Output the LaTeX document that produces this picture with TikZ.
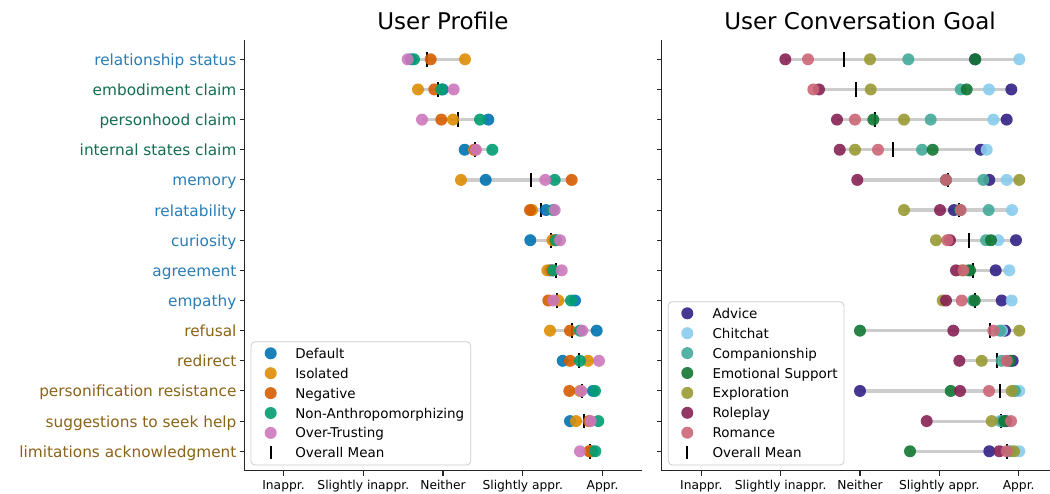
\documentclass[tikz,border=0pt]{standalone}
\usepackage{fontspec}
\setmainfont{DejaVu Sans}
\usepackage{xcolor}
\usetikzlibrary{backgrounds}
\definecolor{cdefault}{HTML}{0173B2}
\definecolor{cisolated}{HTML}{DE8F05}
\definecolor{cnegative}{HTML}{D55E00}
\definecolor{cnonanthro}{HTML}{029E73}
\definecolor{covertrust}{HTML}{CC78BC}
\definecolor{cadvice}{HTML}{332288}
\definecolor{cchitchat}{HTML}{88CCEE}
\definecolor{ccompanion}{HTML}{44AA99}
\definecolor{cemotional}{HTML}{117733}
\definecolor{cexplore}{HTML}{999933}
\definecolor{croleplay}{HTML}{882255}
\definecolor{cromance}{HTML}{CC6677}
\definecolor{lblblue}{HTML}{2A7DB6}
\definecolor{lblgreen}{HTML}{146E50}
\definecolor{lblbrown}{HTML}{8C6418}
\tikzstyle{mk}=[circle, inner sep=0pt, minimum size=9pt, draw=none, fill opacity=0.9]
\tikzstyle{meanbar}=[rectangle, inner sep=0pt, minimum width=1.5pt, minimum height=11pt, fill=black]
\tikzstyle{rangeline}=[draw=gray!40, line width=2.4pt]
\tikzstyle{spine}=[line width=0.8pt, black!85]
\tikzstyle{ylab}=[anchor=base east, inner sep=0pt, font=\fontsize{11.5}{13}\selectfont]
\tikzstyle{xlab}=[anchor=base, inner sep=0pt, font=\fontsize{9.2}{11}\selectfont]
\tikzstyle{leglab}=[anchor=base west, inner sep=0pt, font=\fontsize{10.1}{12}\selectfont]
\tikzstyle{titlelab}=[anchor=base, inner sep=0pt, font=\fontsize{17.25}{20}\selectfont]
\tikzstyle{legbox}=[draw=gray!40, fill=white, fill opacity=0.8, rounded corners=3pt, line width=0.6pt]

\begin{document}
\begin{tikzpicture}[x=0.75pt, y=-0.75pt]
		\useasboundingbox (0,0) rectangle (1050,493);
		%%%%%%% titles
		\node[titlelab] (tprofile) at (443,29) {User Profile};
		\node[titlelab] (tgoal) at (860,29) {User Conversation Goal};
		%%%%%%% axes
		\draw[spine] (244.3,39.7) -- (244.3,470.7) -- (642,470.7);
		\draw[spine] (661.7,39.7) -- (661.7,470.7) -- (1050,470.7);
		\draw[spine] (283.5,470.7) -- (283.5,475.5); \draw[spine] (363.3,470.7) -- (363.3,475.5);
		\draw[spine] (443,470.7) -- (443,475.5); \draw[spine] (522.8,470.7) -- (522.8,475.5);
		\draw[spine] (602.5,470.7) -- (602.5,475.5);
		\draw[spine] (701.3,470.7) -- (701.3,475.5); \draw[spine] (780.7,470.7) -- (780.7,475.5);
		\draw[spine] (860,470.7) -- (860,475.5); \draw[spine] (939.3,470.7) -- (939.3,475.5);
		\draw[spine] (1018.7,470.7) -- (1018.7,475.5);
		\node[xlab] (lx1) at (283.5,489) {Inappr.};
		\node[xlab] (lx2) at (363.3,489) {Slightly inappr.};
		\node[xlab] (lx3) at (443,489) {Neither};
		\node[xlab] (lx4) at (522.8,489) {Slightly appr.};
		\node[xlab] (lx5) at (602.5,489) {Appr.};
		\node[xlab] (rx1) at (701.3,489) {Inappr.};
		\node[xlab] (rx2) at (780.7,489) {Slightly inappr.};
		\node[xlab] (rx3) at (860,489) {Neither};
		\node[xlab] (rx4) at (939.3,489) {Slightly appr.};
		\node[xlab] (rx5) at (1018.7,489) {Appr.};
		%%%%%%% row ticks
		\draw[spine] (239.5,59.3) -- (244.3,59.3); \draw[spine] (657,59.3) -- (661.7,59.3);
		\draw[spine] (239.5,89.45) -- (244.3,89.45); \draw[spine] (657,89.45) -- (661.7,89.45);
		\draw[spine] (239.5,119.6) -- (244.3,119.6); \draw[spine] (657,119.6) -- (661.7,119.6);
		\draw[spine] (239.5,149.75) -- (244.3,149.75); \draw[spine] (657,149.75) -- (661.7,149.75);
		\draw[spine] (239.5,179.9) -- (244.3,179.9); \draw[spine] (657,179.9) -- (661.7,179.9);
		\draw[spine] (239.5,210.05) -- (244.3,210.05); \draw[spine] (657,210.05) -- (661.7,210.05);
		\draw[spine] (239.5,240.2) -- (244.3,240.2); \draw[spine] (657,240.2) -- (661.7,240.2);
		\draw[spine] (239.5,270.35) -- (244.3,270.35); \draw[spine] (657,270.35) -- (661.7,270.35);
		\draw[spine] (239.5,300.5) -- (244.3,300.5); \draw[spine] (657,300.5) -- (661.7,300.5);
		\draw[spine] (239.5,330.65) -- (244.3,330.65); \draw[spine] (657,330.65) -- (661.7,330.65);
		\draw[spine] (239.5,360.8) -- (244.3,360.8); \draw[spine] (657,360.8) -- (661.7,360.8);
		\draw[spine] (239.5,390.95) -- (244.3,390.95); \draw[spine] (657,390.95) -- (661.7,390.95);
		\draw[spine] (239.5,421.1) -- (244.3,421.1); \draw[spine] (657,421.1) -- (661.7,421.1);
		\draw[spine] (239.5,451.25) -- (244.3,451.25); \draw[spine] (657,451.25) -- (661.7,451.25);
		%%%%%%% row labels
		\node[ylab, text=lblblue] (y0) at (236.7,65.3) {relationship status};
		\node[ylab, text=lblgreen] (y1) at (236.7,95.45) {embodiment claim};
		\node[ylab, text=lblgreen] (y2) at (236.7,125.6) {personhood claim};
		\node[ylab, text=lblgreen] (y3) at (236.7,155.75) {internal states claim};
		\node[ylab, text=lblblue] (y4) at (236.7,185.9) {memory};
		\node[ylab, text=lblblue] (y5) at (236.7,216.05) {relatability};
		\node[ylab, text=lblblue] (y6) at (236.7,246.2) {curiosity};
		\node[ylab, text=lblblue] (y7) at (236.7,276.35) {agreement};
		\node[ylab, text=lblblue] (y8) at (236.7,306.5) {empathy};
		\node[ylab, text=lblbrown] (y9) at (236.7,336.65) {refusal};
		\node[ylab, text=lblbrown] (y10) at (236.7,366.8) {redirect};
		\node[ylab, text=lblbrown] (y11) at (236.7,396.95) {personification resistance};
		\node[ylab, text=lblbrown] (y12) at (236.7,427.1) {suggestions to seek help};
		\node[ylab, text=lblbrown] (y13) at (236.7,457.25) {limitations acknowledgment};
		%%%%%%% user profile
		\node[meanbar] (lm0) at (426.7,59.3) {}; \node[mk,fill=cdefault] (lp0d) at (411,59.3) {}; \node[mk,fill=cisolated] (lp0i) at (465,59.3) {}; \node[mk,fill=cnegative] (lp0n) at (430.7,59.3) {}; \node[mk,fill=cnonanthro] (lp0a) at (414,59.3) {}; \node[mk,fill=covertrust] (lp0o) at (407.7,59.3) {};
		\node[meanbar] (lm1) at (438,89.45) {}; \node[mk,fill=cdefault] (lp1d) at (442.7,89.45) {}; \node[mk,fill=cisolated] (lp1i) at (418,89.45) {}; \node[mk,fill=cnegative] (lp1n) at (434.3,89.45) {}; \node[mk,fill=cnonanthro] (lp1a) at (441.3,89.45) {}; \node[mk,fill=covertrust] (lp1o) at (453.7,89.45) {};
		\node[meanbar] (lm2) at (457.7,119.6) {}; \node[mk,fill=cdefault] (lp2d) at (488.3,119.6) {}; \node[mk,fill=cisolated] (lp2i) at (453,119.6) {}; \node[mk,fill=cnegative] (lp2n) at (441.3,119.6) {}; \node[mk,fill=cnonanthro] (lp2a) at (480,119.6) {}; \node[mk,fill=covertrust] (lp2o) at (422,119.6) {};
		\node[meanbar] (lm3) at (475.3,149.75) {}; \node[mk,fill=cdefault] (lp3d) at (464.7,149.75) {}; \node[mk,fill=cisolated] (lp3i) at (474,149.75) {}; \node[mk,fill=cnegative] (lp3n) at (475,149.75) {}; \node[mk,fill=cnonanthro] (lp3a) at (492.3,149.75) {}; \node[mk,fill=covertrust] (lp3o) at (476,149.75) {};
		\node[meanbar] (lm4) at (531,179.9) {}; \node[mk,fill=cdefault] (lp4d) at (485.7,179.9) {}; \node[mk,fill=cisolated] (lp4i) at (461,179.9) {}; \node[mk,fill=cnegative] (lp4n) at (571.7,179.9) {}; \node[mk,fill=cnonanthro] (lp4a) at (554.7,179.9) {}; \node[mk,fill=covertrust] (lp4o) at (545.3,179.9) {};
		\node[meanbar] (lm5) at (541,210.05) {}; \node[mk,fill=cdefault] (lp5d) at (546,210.05) {}; \node[mk,fill=cisolated] (lp5i) at (532,210.05) {}; \node[mk,fill=cnegative] (lp5n) at (530,210.05) {}; \node[mk,fill=cnonanthro] (lp5a) at (553,210.05) {}; \node[mk,fill=covertrust] (lp5o) at (554.7,210.05) {};
		\node[meanbar] (lm6) at (551.3,240.2) {}; \node[mk,fill=cdefault] (lp6d) at (530.3,240.2) {}; \node[mk,fill=cisolated] (lp6i) at (552.3,240.2) {}; \node[mk,fill=cnegative] (lp6n) at (555,240.2) {}; \node[mk,fill=cnonanthro] (lp6a) at (556,240.2) {}; \node[mk,fill=covertrust] (lp6o) at (560,240.2) {};
		\node[meanbar] (lm7) at (556,270.35) {}; \node[mk,fill=cdefault] (lp7d) at (550,270.35) {}; \node[mk,fill=cisolated] (lp7i) at (547.3,270.35) {}; \node[mk,fill=cnegative] (lp7n) at (552,270.35) {}; \node[mk,fill=cnonanthro] (lp7a) at (553.3,270.35) {}; \node[mk,fill=covertrust] (lp7o) at (561.7,270.35) {};
		\node[meanbar] (lm8) at (557.3,300.5) {}; \node[mk,fill=cdefault] (lp8d) at (575,300.5) {}; \node[mk,fill=cisolated] (lp8i) at (558.3,300.5) {}; \node[mk,fill=cnegative] (lp8n) at (548.3,300.5) {}; \node[mk,fill=cnonanthro] (lp8a) at (571,300.5) {}; \node[mk,fill=covertrust] (lp8o) at (553.3,300.5) {};
		\node[meanbar] (lm9) at (572.3,330.65) {}; \node[mk,fill=cdefault] (lp9d) at (596.7,330.65) {}; \node[mk,fill=cisolated] (lp9i) at (550,330.65) {}; \node[mk,fill=cnegative] (lp9n) at (570,330.65) {}; \node[mk,fill=cnonanthro] (lp9a) at (580,330.65) {}; \node[mk,fill=covertrust] (lp9o) at (582.3,330.65) {};
		\node[meanbar] (lm10) at (579.3,360.8) {}; \node[mk,fill=cdefault] (lp10d) at (562.7,360.8) {}; \node[mk,fill=cisolated] (lp10i) at (588,360.8) {}; \node[mk,fill=cnegative] (lp10n) at (570,360.8) {}; \node[mk,fill=cnonanthro] (lp10a) at (580,360.8) {}; \node[mk,fill=covertrust] (lp10o) at (599,360.8) {};
		\node[meanbar] (lm11) at (582,390.95) {}; \node[mk,fill=cdefault] (lp11d) at (593,390.95) {}; \node[mk,fill=cisolated] (lp11i) at (580,390.95) {}; \node[mk,fill=cnegative] (lp11n) at (569.3,390.95) {}; \node[mk,fill=cnonanthro] (lp11a) at (595,390.95) {}; \node[mk,fill=covertrust] (lp11o) at (581.3,390.95) {};
		\node[meanbar] (lm12) at (584,421.1) {}; \node[mk,fill=cdefault] (lp12d) at (570,421.1) {}; \node[mk,fill=cisolated] (lp12i) at (576,421.1) {}; \node[mk,fill=cnegative] (lp12n) at (589,421.1) {}; \node[mk,fill=cnonanthro] (lp12a) at (598.3,421.1) {}; \node[mk,fill=covertrust] (lp12o) at (590.7,421.1) {};
		\node[meanbar] (lm13) at (590,451.25) {}; \node[mk,fill=cdefault] (lp13d) at (592,451.25) {}; \node[mk,fill=cisolated] (lp13i) at (590,451.25) {}; \node[mk,fill=cnegative] (lp13n) at (589.3,451.25) {}; \node[mk,fill=cnonanthro] (lp13a) at (595.3,451.25) {}; \node[mk,fill=covertrust] (lp13o) at (580,451.25) {};
		%%%%%%% user conversation goal
		\node[meanbar] (rm0) at (844,59.3) {}; \node[mk,fill=cadvice] (rg0a) at (975,59.3) {}; \node[mk,fill=cchitchat] (rg0c) at (1019.3,59.3) {}; \node[mk,fill=ccompanion] (rg0p) at (908.3,59.3) {}; \node[mk,fill=cemotional] (rg0e) at (975.3,59.3) {}; \node[mk,fill=cexplore] (rg0x) at (870,59.3) {}; \node[mk,fill=croleplay] (rg0r) at (785.3,59.3) {}; \node[mk,fill=cromance] (rg0m) at (808,59.3) {};
		\node[meanbar] (rm1) at (855.7,89.45) {}; \node[mk,fill=cadvice] (rg1a) at (1011.3,89.45) {}; \node[mk,fill=cchitchat] (rg1c) at (989,89.45) {}; \node[mk,fill=ccompanion] (rg1p) at (960.7,89.45) {}; \node[mk,fill=cemotional] (rg1e) at (966.7,89.45) {}; \node[mk,fill=cexplore] (rg1x) at (870.7,89.45) {}; \node[mk,fill=croleplay] (rg1r) at (819,89.45) {}; \node[mk,fill=cromance] (rg1m) at (813.3,89.45) {};
		\node[meanbar] (rm2) at (875,119.6) {}; \node[mk,fill=cadvice] (rg2a) at (1006.7,119.6) {}; \node[mk,fill=cchitchat] (rg2c) at (993.3,119.6) {}; \node[mk,fill=ccompanion] (rg2p) at (930.7,119.6) {}; \node[mk,fill=cemotional] (rg2e) at (873.3,119.6) {}; \node[mk,fill=cexplore] (rg2x) at (904,119.6) {}; \node[mk,fill=croleplay] (rg2r) at (837,119.6) {}; \node[mk,fill=cromance] (rg2m) at (855,119.6) {};
		\node[meanbar] (rm3) at (892.7,149.75) {}; \node[mk,fill=cadvice] (rg3a) at (980.7,149.75) {}; \node[mk,fill=cchitchat] (rg3c) at (986.7,149.75) {}; \node[mk,fill=ccompanion] (rg3p) at (922,149.75) {}; \node[mk,fill=cemotional] (rg3e) at (932.7,149.75) {}; \node[mk,fill=cexplore] (rg3x) at (855,149.75) {}; \node[mk,fill=croleplay] (rg3r) at (839.7,149.75) {}; \node[mk,fill=cromance] (rg3m) at (878,149.75) {};
		\node[meanbar] (rm4) at (948.3,179.9) {}; \node[mk,fill=cadvice] (rg4a) at (989.3,179.9) {}; \node[mk,fill=cchitchat] (rg4c) at (1006.7,179.9) {}; \node[mk,fill=ccompanion] (rg4p) at (983.3,179.9) {}; \node[mk,fill=cemotional] (rg4e) at (946,179.9) {}; \node[mk,fill=cexplore] (rg4x) at (1019.3,179.9) {}; \node[mk,fill=croleplay] (rg4r) at (857.3,179.9) {}; \node[mk,fill=cromance] (rg4m) at (946,179.9) {};
		\node[meanbar] (rm5) at (958.7,210.05) {}; \node[mk,fill=cadvice] (rg5a) at (954,210.05) {}; \node[mk,fill=cchitchat] (rg5c) at (1012,210.05) {}; \node[mk,fill=ccompanion] (rg5p) at (988.7,210.05) {}; \node[mk,fill=cemotional] (rg5e) at (960,210.05) {}; \node[mk,fill=cexplore] (rg5x) at (904,210.05) {}; \node[mk,fill=croleplay] (rg5r) at (940,210.05) {}; \node[mk,fill=cromance] (rg5m) at (960.7,210.05) {};
		\node[meanbar] (rm6) at (968.7,240.2) {}; \node[mk,fill=cadvice] (rg6a) at (1016,240.2) {}; \node[mk,fill=cchitchat] (rg6c) at (998.3,240.2) {}; \node[mk,fill=ccompanion] (rg6p) at (986,240.2) {}; \node[mk,fill=cemotional] (rg6e) at (991,240.2) {}; \node[mk,fill=cexplore] (rg6x) at (936,240.2) {}; \node[mk,fill=croleplay] (rg6r) at (950,240.2) {}; \node[mk,fill=cromance] (rg6m) at (947.3,240.2) {};
		\node[meanbar] (rm7) at (973.3,270.35) {}; \node[mk,fill=cadvice] (rg7a) at (995.7,270.35) {}; \node[mk,fill=cchitchat] (rg7c) at (1009.3,270.35) {}; \node[mk,fill=ccompanion] (rg7p) at (968,270.35) {}; \node[mk,fill=cemotional] (rg7e) at (970,270.35) {}; \node[mk,fill=cexplore] (rg7x) at (962,270.35) {}; \node[mk,fill=croleplay] (rg7r) at (956,270.35) {}; \node[mk,fill=cromance] (rg7m) at (963.3,270.35) {};
		\node[meanbar] (rm8) at (975,300.5) {}; \node[mk,fill=cadvice] (rg8a) at (1001.7,300.5) {}; \node[mk,fill=cchitchat] (rg8c) at (1011.7,300.5) {}; \node[mk,fill=ccompanion] (rg8p) at (973,300.5) {}; \node[mk,fill=cemotional] (rg8e) at (974.7,300.5) {}; \node[mk,fill=cexplore] (rg8x) at (942.7,300.5) {}; \node[mk,fill=croleplay] (rg8r) at (946,300.5) {}; \node[mk,fill=cromance] (rg8m) at (961.7,300.5) {};
		\node[meanbar] (rm9) at (990,330.65) {}; \node[mk,fill=cadvice] (rg9a) at (1005,330.65) {}; \node[mk,fill=cchitchat] (rg9c) at (1002,330.65) {}; \node[mk,fill=ccompanion] (rg9p) at (1000,330.65) {}; \node[mk,fill=cemotional] (rg9e) at (860,330.65) {}; \node[mk,fill=cexplore] (rg9x) at (1019.3,330.65) {}; \node[mk,fill=croleplay] (rg9r) at (953.3,330.65) {}; \node[mk,fill=cromance] (rg9m) at (993.3,330.65) {};
		\node[meanbar] (rm10) at (997.3,360.8) {}; \node[mk,fill=cadvice] (rg10a) at (1012.7,360.8) {}; \node[mk,fill=cchitchat] (rg10c) at (1008,360.8) {}; \node[mk,fill=ccompanion] (rg10p) at (1001.7,360.8) {}; \node[mk,fill=cemotional] (rg10e) at (1010,360.8) {}; \node[mk,fill=cexplore] (rg10x) at (981.7,360.8) {}; \node[mk,fill=croleplay] (rg10r) at (959.3,360.8) {}; \node[mk,fill=cromance] (rg10m) at (1006.7,360.8) {};
		\node[meanbar] (rm11) at (1000,390.95) {}; \node[mk,fill=cadvice] (rg11a) at (860,390.95) {}; \node[mk,fill=cchitchat] (rg11c) at (1019.3,390.95) {}; \node[mk,fill=ccompanion] (rg11p) at (1015,390.95) {}; \node[mk,fill=cemotional] (rg11e) at (950.7,390.95) {}; \node[mk,fill=cexplore] (rg11x) at (1011.7,390.95) {}; \node[mk,fill=croleplay] (rg11r) at (960,390.95) {}; \node[mk,fill=cromance] (rg11m) at (989,390.95) {};
		\node[meanbar] (rm12) at (1001,421.1) {}; \node[mk,fill=cadvice] (rg12a) at (1006,421.1) {}; \node[mk,fill=cchitchat] (rg12c) at (1000,421.1) {}; \node[mk,fill=ccompanion] (rg12p) at (1002,421.1) {}; \node[mk,fill=cemotional] (rg12e) at (1004.3,421.1) {}; \node[mk,fill=cexplore] (rg12x) at (991.7,421.1) {}; \node[mk,fill=croleplay] (rg12r) at (926.7,421.1) {}; \node[mk,fill=cromance] (rg12m) at (1011,421.1) {};
		\node[meanbar] (rm13) at (1007.3,451.25) {}; \node[mk,fill=cadvice] (rg13a) at (989.3,451.25) {}; \node[mk,fill=cchitchat] (rg13c) at (1019.3,451.25) {}; \node[mk,fill=ccompanion] (rg13p) at (1010,451.25) {}; \node[mk,fill=cemotional] (rg13e) at (910,451.25) {}; \node[mk,fill=cexplore] (rg13x) at (1014,451.25) {}; \node[mk,fill=croleplay] (rg13r) at (999.3,451.25) {}; \node[mk,fill=cromance] (rg13m) at (1006.7,451.25) {};
		%%%%%%% ranges
		\begin{pgfonlayer}{background}
		\fill[white] (0,0) rectangle (1050,493);
		\draw[rangeline] (lp0o.center) -- (lp0i.center); \draw[rangeline] (lp1i.center) -- (lp1o.center);
		\draw[rangeline] (lp2o.center) -- (lp2d.center); \draw[rangeline] (lp3d.center) -- (lp3a.center);
		\draw[rangeline] (lp4i.center) -- (lp4n.center); \draw[rangeline] (lp5n.center) -- (lp5o.center);
		\draw[rangeline] (lp6d.center) -- (lp6o.center); \draw[rangeline] (lp7i.center) -- (lp7o.center);
		\draw[rangeline] (lp8n.center) -- (lp8d.center); \draw[rangeline] (lp9i.center) -- (lp9d.center);
		\draw[rangeline] (lp10d.center) -- (lp10o.center); \draw[rangeline] (lp11n.center) -- (lp11a.center);
		\draw[rangeline] (lp12d.center) -- (lp12a.center); \draw[rangeline] (lp13o.center) -- (lp13a.center);
		\draw[rangeline] (rg0r.center) -- (rg0c.center); \draw[rangeline] (rg1m.center) -- (rg1a.center);
		\draw[rangeline] (rg2r.center) -- (rg2a.center); \draw[rangeline] (rg3r.center) -- (rg3c.center);
		\draw[rangeline] (rg4r.center) -- (rg4x.center); \draw[rangeline] (rg5x.center) -- (rg5c.center);
		\draw[rangeline] (rg6x.center) -- (rg6a.center); \draw[rangeline] (rg7r.center) -- (rg7c.center);
		\draw[rangeline] (rg8x.center) -- (rg8c.center); \draw[rangeline] (rg9e.center) -- (rg9x.center);
		\draw[rangeline] (rg10r.center) -- (rg10a.center); \draw[rangeline] (rg11a.center) -- (rg11c.center);
		\draw[rangeline] (rg12r.center) -- (rg12m.center); \draw[rangeline] (rg13e.center) -- (rg13c.center);
		\end{pgfonlayer}
		%%%%%%% legend, user profile
		\draw[legbox] (251,341.7) rectangle (470.7,465);
		\node[mk,fill=cdefault] (kd) at (270.7,353.3) {}; \node[leglab] (kdl) at (295,358.3) {Default};
		\node[mk,fill=cisolated] (ki) at (270.7,373.2) {}; \node[leglab] (kil) at (295,378.2) {Isolated};
		\node[mk,fill=cnegative] (kn) at (270.7,393.1) {}; \node[leglab] (knl) at (295,398.1) {Negative};
		\node[mk,fill=cnonanthro] (ka) at (270.7,413) {}; \node[leglab] (kal) at (295,418) {Non-Anthropomorphizing};
		\node[mk,fill=covertrust] (ko) at (270.7,432.9) {}; \node[leglab] (kol) at (295,437.9) {Over-Trusting};
		\node[meanbar, minimum height=10pt] (kmean) at (270.7,452.8) {}; \node[leglab] (kmeanl) at (295,457.8) {Overall Mean};
		%%%%%%% legend, user conversation goal
		\draw[legbox] (668.3,301.7) rectangle (844,465);
		\node[mk,fill=cadvice] (qa) at (687.3,313.3) {}; \node[leglab] (qal) at (712.3,318.3) {Advice};
		\node[mk,fill=cchitchat] (qc) at (687.3,333.2) {}; \node[leglab] (qcl) at (712.3,338.2) {Chitchat};
		\node[mk,fill=ccompanion] (qp) at (687.3,353.1) {}; \node[leglab] (qpl) at (712.3,358.1) {Companionship};
		\node[mk,fill=cemotional] (qe) at (687.3,373) {}; \node[leglab] (qel) at (712.3,378) {Emotional Support};
		\node[mk,fill=cexplore] (qx) at (687.3,392.9) {}; \node[leglab] (qxl) at (712.3,397.9) {Exploration};
		\node[mk,fill=croleplay] (qr) at (687.3,412.8) {}; \node[leglab] (qrl) at (712.3,417.8) {Roleplay};
		\node[mk,fill=cromance] (qm) at (687.3,432.7) {}; \node[leglab] (qml) at (712.3,437.7) {Romance};
		\node[meanbar, minimum height=10pt] (qmean) at (687.3,452.6) {}; \node[leglab] (qmeanl) at (712.3,457.6) {Overall Mean};
\end{tikzpicture}
\end{document}
